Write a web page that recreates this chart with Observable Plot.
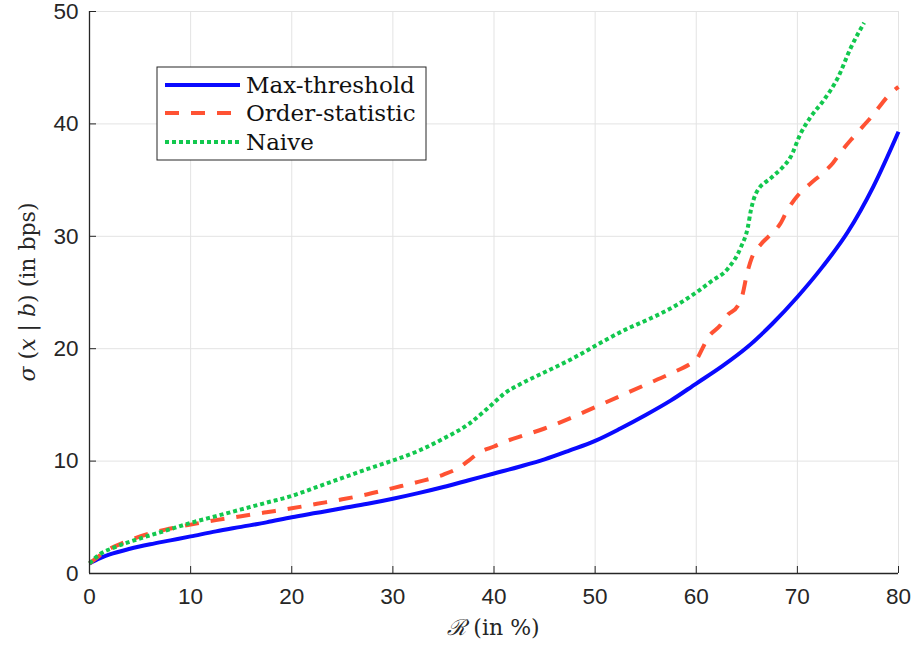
<!DOCTYPE html>
<html><head><meta charset="utf-8">
<script src="https://cdn.jsdelivr.net/npm/d3@7"></script>
<script src="https://cdn.jsdelivr.net/npm/@observablehq/plot@0.6"></script>
<style>body{margin:0;background:#fff}</style>
</head><body><div id="chart"></div>
<script>
const xTicks = [0, 10, 20, 30, 40, 50, 60, 70, 80];
const yTicks = [0, 10, 20, 30, 40, 50];
const seriesNames = ["Max-threshold", "Order-statistic", "Naive"];
const seriesColors = ["#0a0aff", "#ff5233", "#12c84e"];
const seriesDash = [null, "14,12", "4,3"];

const blueX = [0,1,2,4,6,8,10,12.5,15,17.5,20,22.5,25,27.5,30,32.5,35,37.5,40,42.5,45,47.5,50,52.5,55,57.5,60,62.5,65,67.5,70,72.5,75,77.5,80];
const blueY = [0.9,1.35,1.7,2.2,2.6,2.95,3.3,3.75,4.15,4.55,5.0,5.4,5.8,6.2,6.65,7.15,7.7,8.3,8.9,9.5,10.15,10.95,11.8,12.9,14.1,15.4,16.9,18.4,20.1,22.2,24.6,27.3,30.4,34.4,39.3];

const redX = [0,1,2,3.5,5,7.5,10,12.5,15,17.5,20,22.5,25,27.5,30,32.5,35,36.5,37.5,38.6,40,41.3,43,45,47.5,50,52.5,55,57.5,59.5,60,60.6,61.1,62.4,63.1,64.1,64.6,65.0,65.5,66.4,67.4,68.3,69,70.3,71.3,72.6,73.5,74.3,75.5,77.3,79.2,80];
const redY = [0.9,1.6,2.2,2.8,3.3,3.9,4.35,4.75,5.1,5.45,5.8,6.2,6.6,7.05,7.6,8.15,8.8,9.4,10.05,10.8,11.3,11.8,12.3,12.9,13.8,14.8,15.8,16.8,17.8,18.7,19.0,20.0,20.9,22.1,23.0,23.8,24.9,26.6,28.1,29.3,30.2,31.1,32.3,33.9,34.7,35.7,36.5,37.5,38.8,40.6,42.7,43.3];

const greenX = [0,1,2.4,5.3,7.5,10,12.5,15,17.5,20,22.5,25,27.5,30,32.5,35,37.5,39,40,41,42.5,45,47.5,50.5,53,55,57.5,60,61.5,63.1,64.4,65.1,65.4,65.9,67.4,68.5,69.3,70.3,71.3,72.6,74,75.3,76.6];
const greenY = [0.9,1.7,2.3,3.2,3.8,4.5,5.1,5.7,6.3,6.9,7.7,8.5,9.3,10.05,10.9,12.0,13.3,14.4,15.2,16.0,16.8,17.9,19.0,20.5,21.7,22.5,23.6,25.0,26.0,27.1,29.0,30.8,32.3,33.8,35.2,36.1,37.0,39.1,40.6,42.1,44.1,46.8,49.0];

const seriesX = [blueX, redX, greenX];
const seriesY = [blueY, redY, greenY];

const lineMarks = seriesNames.map((name, i) => {
  const rows = seriesX[i].map((x, j) => ({x, y: seriesY[i][j], s: name}));
  return Plot.line(rows, {x: "x", y: "y", stroke: seriesColors[i], strokeWidth: 4,
    strokeDasharray: seriesDash[i], curve: "monotone-x", strokeLinecap: "butt"});
});

const axisColor = "#262626";
const plot = Plot.plot({
  width: 917, height: 646,
  marginLeft: 89, marginRight: 19, marginTop: 11, marginBottom: 73,
  style: {fontFamily: "'Liberation Sans', Arial, sans-serif", background: "#fff", overflow: "visible"},
  x: {domain: [0, 80]},
  y: {domain: [0, 50]},
  marks: [
    Plot.gridX({ticks: xTicks, stroke: "#e3e3e3", strokeOpacity: 1}),
    Plot.gridY({ticks: yTicks, stroke: "#e3e3e3", strokeOpacity: 1}),
    ...lineMarks,
    Plot.ruleX([0], {stroke: axisColor, strokeWidth: 1.3}),
    Plot.ruleY([0], {stroke: axisColor, strokeWidth: 1.3}),
    Plot.axisX({ticks: xTicks, tickSize: 7, dy: -7, tickFormat: () => "", label: null, stroke: axisColor}),
    Plot.axisY({ticks: yTicks, tickSize: 7, dx: 7, tickFormat: () => "", label: null, stroke: axisColor}),
    Plot.axisX({ticks: xTicks, tickSize: 0, tickPadding: 15, fontSize: 22.5, fill: axisColor, label: null}),
    Plot.axisY({ticks: yTicks, tickSize: 0, tickPadding: 11, fontSize: 22.5, fill: axisColor, label: null})
  ]
});
document.getElementById("chart").append(plot);

const svg = d3.select(plot);
const xr = plot.scale("x").range, yr = plot.scale("y").range;
const serif = "'DejaVu Serif', 'Liberation Serif', serif";

// x-axis title
const xt = svg.append("text")
  .attr("x", (xr[0] + xr[1]) / 2).attr("y", 635)
  .attr("text-anchor", "middle").attr("fill", axisColor)
  .style("font-family", serif).style("font-size", "22px");
xt.append("tspan").style("font-style", "italic").text("ℛ");
xt.append("tspan").text(" (in %)");

// y-axis title
const yt = svg.append("text")
  .attr("transform", `translate(35,${(yr[0] + yr[1]) / 2}) rotate(-90)`)
  .attr("text-anchor", "middle").attr("fill", axisColor)
  .style("font-family", serif).style("font-size", "22px");
yt.append("tspan").style("font-style", "italic").text("σ");
yt.append("tspan").text(" (");
yt.append("tspan").style("font-style", "italic").text("x");
yt.append("tspan").text(" | ");
yt.append("tspan").style("font-style", "italic").text("b");
yt.append("tspan").text(") (in bps)");

// legend
const lg = svg.append("g");
lg.append("rect").attr("x", 157).attr("y", 67).attr("width", 269).attr("height", 93)
  .attr("fill", "#fff").attr("stroke", axisColor).attr("stroke-width", 1);
const rowsY = [85, 113, 142];
seriesNames.forEach((name, i) => {
  lg.append("line").attr("x1", 165).attr("x2", 240).attr("y1", rowsY[i]).attr("y2", rowsY[i])
    .attr("stroke", seriesColors[i]).attr("stroke-width", 4)
    .attr("stroke-dasharray", seriesDash[i]);
  lg.append("text").attr("x", 246).attr("y", rowsY[i]).attr("dy", "0.35em")
    .attr("text-anchor", "start")
    .attr("fill", "#111").style("font-family", serif).style("font-size", "23px").text(name);
});
</script>
</body></html>
